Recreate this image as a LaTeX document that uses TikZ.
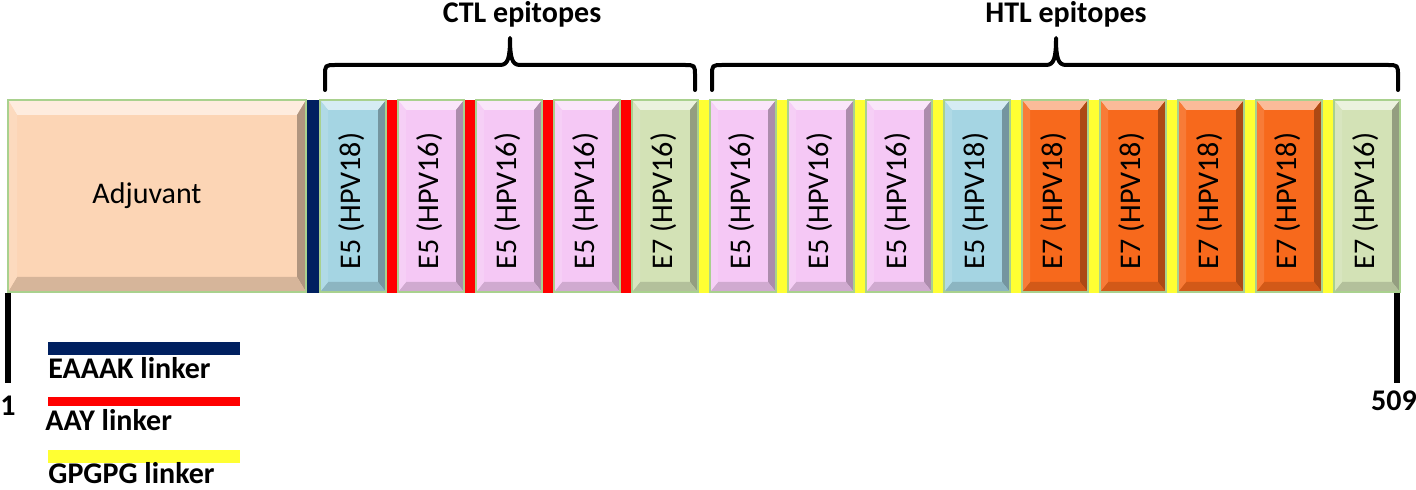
\documentclass[tikz,border=0pt]{standalone}
\usepackage{fontspec}
\setmainfont{Carlito}
\usetikzlibrary{calc}
\definecolor{adj}{HTML}{FCD5B5}
\definecolor{cblue}{HTML}{A5D5E3}
\definecolor{cpink}{HTML}{F5C8F5}
\definecolor{cgreen}{HTML}{D3E2B6}
\definecolor{corange}{HTML}{F7691C}
\definecolor{ldark}{HTML}{002060}
\definecolor{lred}{HTML}{FF0000}
\definecolor{lyellow}{HTML}{FFFF33}
\definecolor{edgegreen}{HTML}{A9D18E}
\newcommand\bevel[4]{% name, colour, top inset, side inset
  \fill[#2!45!white] (#1.north west) -- (#1.north east) -- ($(#1.north east)+(-#4,#3)$) -- ($(#1.north west)+(#4,#3)$) -- cycle;
  \fill[#2!70!black] (#1.north east) -- (#1.south east) -- ($(#1.south east)+(-#4,-#3)$) -- ($(#1.north east)+(-#4,#3)$) -- cycle;
  \fill[#2!85!black] (#1.south west) -- (#1.south east) -- ($(#1.south east)+(-#4,-#3)$) -- ($(#1.south west)+(#4,-#3)$) -- cycle;
  \fill[#2!88!white] (#1.north west) -- (#1.south west) -- ($(#1.south west)+(#4,-#3)$) -- ($(#1.north west)+(#4,#3)$) -- cycle;
  \draw[edgegreen, line width=0.6pt] (#1.north west) rectangle (#1.south east);
}
\begin{document}
\begin{tikzpicture}[x=0.5pt, y=-0.5pt,
  seg/.style={inner sep=0pt, outer sep=0pt, minimum width=33pt, minimum height=96pt, anchor=north west},
  lab/.style={rotate=90, inner sep=0pt, font=\fontsize{15}{18}\selectfont},
  bold/.style={inner sep=0pt, font=\fontsize{15}{18}\selectfont\bfseries},
  brace/.style={line width=2pt, line cap=round, line join=round},
  tick/.style={line width=2.6pt}]
\useasboundingbox (0,0) rectangle (1416,490);
% linkers
\fill[ldark] (307,100) rectangle (319,293);
\foreach \x in {386,464,542,620} \fill[lred] (\x,100) rectangle (\x+12,293);
\foreach \x in {698,776,854,932,1010,1088,1166,1244,1322} \fill[lyellow] (\x,100) rectangle (\x+12,293);
% adjuvant
\node[seg, fill=adj, minimum width=149pt] (adjv) at (8,100) {};
\bevel{adjv}{adj}{15}{9}
\node[inner sep=0pt, font=\fontsize{15}{18}\selectfont] (adjt) at ($(adjv.center)+(-10,0)$) {Adjuvant};
% epitope boxes
\foreach \i/\x/\c/\t in {1/320/cblue/E5 (HPV18), 2/398/cpink/E5 (HPV16), 3/476/cpink/E5 (HPV16), 4/554/cpink/E5 (HPV16), 5/632/cgreen/E7 (HPV16),
  6/710/cpink/E5 (HPV16), 7/788/cpink/E5 (HPV16), 8/866/cpink/E5 (HPV16), 9/944/cblue/E5 (HPV18), 10/1022/corange/E7 (HPV18),
  11/1100/corange/E7 (HPV18), 12/1178/corange/E7 (HPV18), 13/1256/corange/E7 (HPV18), 14/1334/cgreen/E7 (HPV16)} {
  \node[seg, fill=\c] (b\i) at (\x,100) {};
  \bevel{b\i}{\c}{10}{8}
  \node[lab] (t\i) at ($(b\i.center)+(-1,5)$) {\t};
}
% brackets
\coordinate (ctlL) at (325,90); \coordinate (ctlR) at (695,90); \coordinate (ctlT) at (510,38);
\coordinate (htlL) at (712,90); \coordinate (htlR) at (1398,90); \coordinate (htlT) at (1056,38);
\draw[brace] (ctlL) -- (325,76) .. controls (325,65) .. (336,65) -- (500,65) .. controls (508,65) and (510,58) .. (ctlT) .. controls (510,58) and (512,65) .. (520,65) -- (684,65) .. controls (695,65) .. (695,76) -- (ctlR);
\draw[brace] (htlL) -- (712,76) .. controls (712,65) .. (723,65) -- (1046,65) .. controls (1054,65) and (1056,58) .. (htlT) .. controls (1056,58) and (1058,65) .. (1066,65) -- (1387,65) .. controls (1398,65) .. (1398,76) -- (htlR);
\node[bold, anchor=base] (ctl) at (522,23) {CTL epitopes};
\node[bold, anchor=base] (htl) at (1066,23) {HTL epitopes};
% ends
\coordinate (s1) at (8,293); \coordinate (e1) at (8,383);
\coordinate (s2) at (1397,293); \coordinate (e2) at (1397,383);
\draw[tick] (s1) -- (e1);
\draw[tick] (s2) -- (e2);
\node[bold, anchor=base] (n1) at (8,416) {1};
\node[bold, anchor=base] (n509) at (1394,411) {509};
% legend
\fill[ldark] (48,342) rectangle (240,355);
\node[bold, anchor=base west] (l1) at (48,379) {EAAAK linker};
\fill[lred] (48,397) rectangle (240,406);
\node[bold, anchor=base west] (l2) at (45,431) {AAY linker};
\fill[lyellow] (48,450) rectangle (240,463);
\node[bold, anchor=base west] (l3) at (48,484) {GPGPG linker};
\end{tikzpicture}
\end{document}
